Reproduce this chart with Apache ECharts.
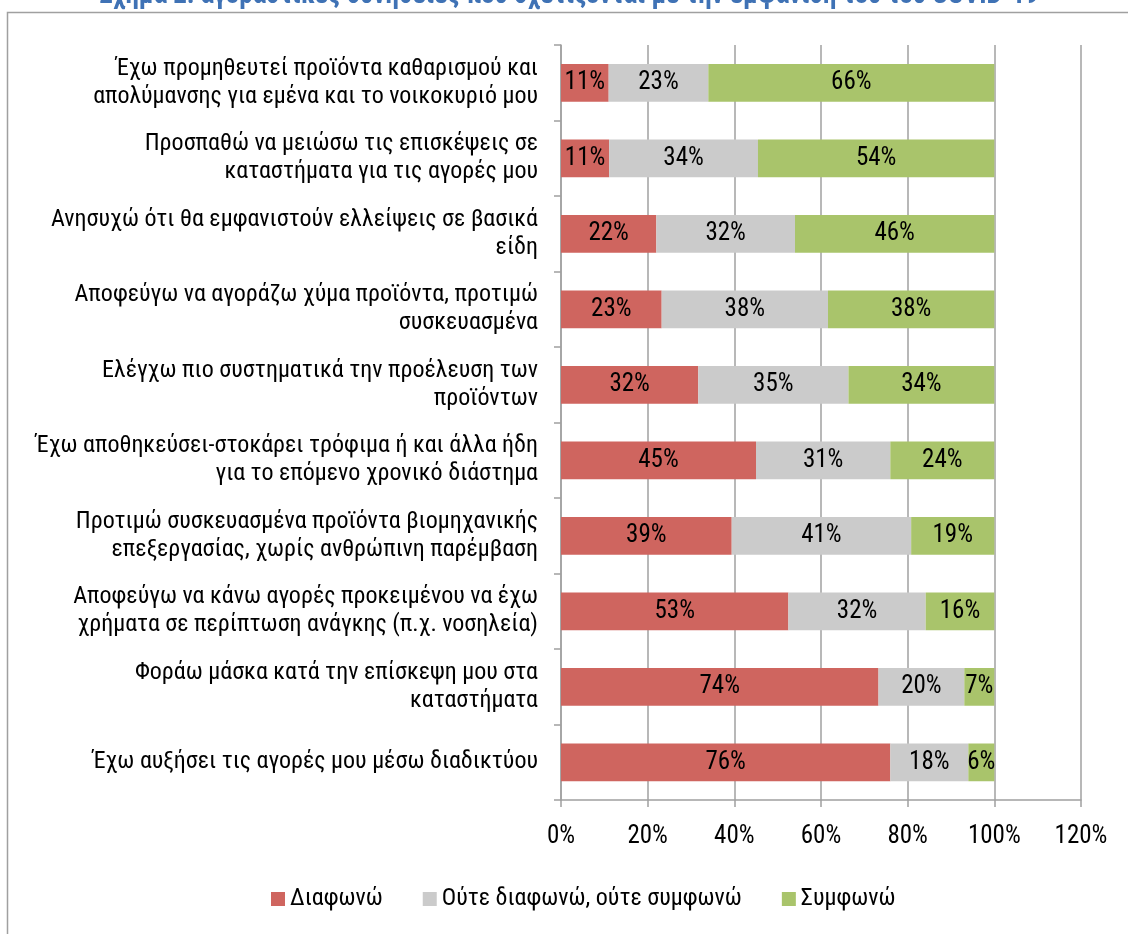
<!DOCTYPE html>
<html>
<head>
<meta charset="utf-8">
<script src="https://cdn.jsdelivr.net/npm/echarts@6/dist/echarts.min.js"></script>
<style>html,body{margin:0;padding:0;background:#fff}#c{width:1128px;height:934px}</style>
</head>
<body>
<div id="c"></div>
<script>
const categories = [
  'Έχω προμηθευτεί προϊόντα καθαρισμού και\nαπολύμανσης για εμένα και το νοικοκυριό μου',
  'Προσπαθώ να μειώσω τις επισκέψεις σε\nκαταστήματα για τις αγορές μου',
  'Ανησυχώ ότι θα εμφανιστούν ελλείψεις σε βασικά\nείδη',
  'Αποφεύγω να αγοράζω χύμα προϊόντα, προτιμώ\nσυσκευασμένα',
  'Ελέγχω πιο συστηματικά την προέλευση των\nπροϊόντων',
  'Έχω αποθηκεύσει-στοκάρει τρόφιμα ή και άλλα ήδη\nγια το επόμενο χρονικό διάστημα',
  'Προτιμώ συσκευασμένα προϊόντα βιομηχανικής\nεπεξεργασίας, χωρίς ανθρώπινη παρέμβαση',
  'Αποφεύγω να κάνω αγορές προκειμένου να έχω\nχρήματα σε περίπτωση ανάγκης (π.χ. νοσηλεία)',
  'Φοράω μάσκα κατά την επίσκεψη μου στα\nκαταστήματα',
  'Έχω αυξήσει τις αγορές μου μέσω διαδικτύου'
];
const disagree = [11, 11, 22, 23, 32, 45, 39, 53, 74, 76];
const neutral  = [23, 34, 32, 38, 35, 31, 41, 32, 20, 18];
const agree    = [66, 54, 46, 38, 34, 24, 19, 16, 7, 6];
const seriesNames = ['Διαφωνώ', 'Ούτε διαφωνώ, ούτε συμφωνώ', 'Συμφωνώ'];
const titleText = 'Σχήμα 2: αγοραστικές συνήθειες που σχετίζονται με την εμφάνιση του του COVID-19';

const FONT = "'Liberation Sans Narrow', 'Arial Narrow', 'Roboto Condensed', 'Liberation Sans', sans-serif";
const raw = [disagree, neutral, agree];
const totals = disagree.map((d, i) => d + neutral[i] + agree[i]);
const norm = raw.map(arr => arr.map((v, i) => v / totals[i] * 100));
const colors = ['#CF655F', '#CBCBCB', '#A9C46B'];

const chart = echarts.init(document.getElementById('c'));
chart.setOption({
  animation: false,
  textStyle: { fontFamily: FONT },
  graphic: [
    { type: 'rect', shape: { x: 7.5, y: 12.5, width: 1140, height: 940 },
      style: { fill: 'none', stroke: '#a0a0a0', lineWidth: 1.5 } },
    { type: 'text', x: 569, y: -4,
      style: { text: titleText, fill: '#3F72B5', font: 'bold 27px ' + FONT,
               textAlign: 'center', textVerticalAlign: 'middle' } }
  ],
  grid: { left: 561, right: 1128 - 1081, top: 45, bottom: 934 - 800, containLabel: false },
  legend: {
    top: 882, left: 266, itemWidth: 14, itemHeight: 14, itemGap: 40,
    icon: 'rect',
    textStyle: { fontSize: 24, color: '#000', fontFamily: FONT },
    data: seriesNames
  },
  xAxis: {
    type: 'value', min: 0, max: 120, interval: 20,
    axisLabel: { formatter: '{value}%', fontSize: 25, color: '#000', margin: 24 },
    axisLine: { show: true, lineStyle: { color: '#a0a0a0', width: 1.5 } },
    axisTick: { show: true, length: 7, lineStyle: { color: '#a0a0a0', width: 1.5 } },
    splitLine: { show: true, lineStyle: { color: '#a0a0a0', width: 1.5 } }
  },
  yAxis: {
    type: 'category', data: categories, inverse: true,
    axisLine: { show: true, lineStyle: { color: '#a0a0a0', width: 1.5 } },
    axisTick: { show: true, length: 7, lineStyle: { color: '#a0a0a0', width: 1.5 } },
    axisLabel: { fontSize: 24, color: '#000', margin: 23, lineHeight: 28, align: 'right' }
  },
  series: seriesNames.map((name, s) => ({
    name, type: 'bar', stack: 'all', barCategoryGap: '50%',
    itemStyle: { color: colors[s] },
    label: {
      show: true, position: 'inside', fontSize: 25, color: '#000',
      formatter: p => raw[s][p.dataIndex] + '%'
    },
    data: norm[s]
  }))
});
</script>
</body>
</html>
